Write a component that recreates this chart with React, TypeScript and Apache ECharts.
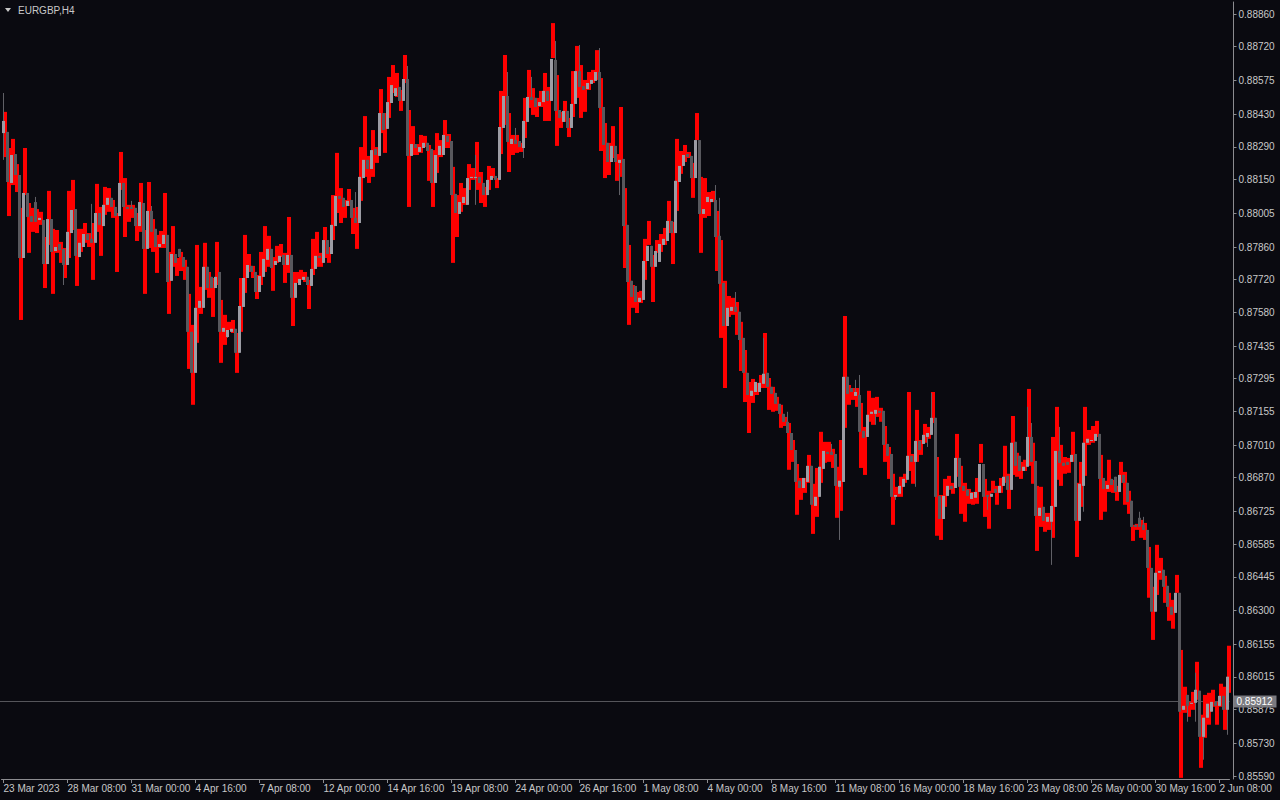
import React, { useEffect, useRef } from 'react';
import * as echarts from 'echarts';

const symbolTitle = 'EURGBP,H4';
const dateLabels = ['23 Mar 2023', '28 Mar 08:00', '31 Mar 00:00', '4 Apr 16:00', '7 Apr 08:00', '12 Apr 00:00', '14 Apr 16:00', '19 Apr 08:00', '24 Apr 00:00', '26 Apr 16:00', '1 May 08:00', '4 May 00:00', '8 May 16:00', '11 May 08:00', '16 May 00:00', '18 May 16:00', '23 May 08:00', '26 May 00:00', '30 May 16:00', '2 Jun 08:00'];
const dateLabelStep = 16;
const priceLabels = [0.88860, 0.88720, 0.88575, 0.88430, 0.88290, 0.88150, 0.88005, 0.87860, 0.87720, 0.87580, 0.87435, 0.87295, 0.87155, 0.87010, 0.86870, 0.86725, 0.86585, 0.86445, 0.86300, 0.86155, 0.86015, 0.85875, 0.85730, 0.85590];
const lastPrice = 0.85912;

const barOpen = [
  0.88349,0.88354,0.88135,0.88259,0.88169,0.87813,0.88092,0.87993,0.88053,0.87976,0.87976,0.87787,0.87980,0.87843,0.87873,0.87852,
  0.87783,0.87920,0.88023,0.87817,0.87860,0.87916,0.87895,0.87878,0.88006,0.87950,0.88041,0.88071,0.88032,0.87993,0.88135,0.88032,
  0.88032,0.88028,0.87950,0.88049,0.87852,0.88015,0.87938,0.87860,0.87873,0.87912,0.87715,0.87830,0.87852,0.87817,0.87775,0.87496,
  0.87320,0.87599,0.87599,0.87775,0.87732,0.87684,0.87753,0.87496,0.87474,0.87496,0.87509,0.87406,0.87603,0.87727,0.87779,0.87753,
  0.87667,0.87732,0.87805,0.87852,0.87783,0.87796,0.87826,0.87783,0.87826,0.87642,0.87697,0.87719,0.87732,0.87693,0.87766,0.87822,
  0.87792,0.87890,0.87830,0.87950,0.88079,0.88071,0.88036,0.88062,0.87985,0.87963,0.88156,0.88234,0.88195,0.88281,0.88251,0.88435,
  0.88367,0.88478,0.88508,0.88547,0.88487,0.88581,0.88251,0.88302,0.88268,0.88285,0.88307,0.88281,0.88135,0.88255,0.88255,0.88337,
  0.88315,0.88088,0.88002,0.88049,0.88041,0.88156,0.88156,0.88161,0.88135,0.88083,0.88148,0.88165,0.88148,0.88371,0.88508,0.88302,
  0.88319,0.88315,0.88285,0.88397,0.88504,0.88500,0.88465,0.88482,0.88530,0.88487,0.88663,0.88448,0.88397,0.88444,0.88371,0.88474,
  0.88615,0.88551,0.88538,0.88560,0.88573,0.88611,0.88461,0.88307,0.88225,0.88294,0.88221,0.88238,0.87955,0.87715,0.87693,0.87624,
  0.87633,0.87800,0.87865,0.87775,0.87796,0.87869,0.87886,0.87972,0.87920,0.88139,0.88208,0.88259,0.88251,0.88156,0.88319,0.88002,
  0.88053,0.88053,0.88062,0.87908,0.87706,0.87521,0.87586,0.87603,0.87582,0.87470,0.87320,0.87221,0.87238,0.87238,0.87273,0.87320,
  0.87260,0.87234,0.87187,0.87144,0.87110,0.87062,0.86989,0.86857,0.86826,0.86852,0.86921,0.86749,0.86788,0.86908,0.86981,0.86981,
  0.86972,0.86831,0.86852,0.87303,0.87255,0.87221,0.87225,0.87071,0.87045,0.87144,0.87144,0.87157,0.87157,0.87015,0.86972,0.86788,
  0.86801,0.86831,0.86861,0.86964,0.86938,0.87028,0.87015,0.87045,0.87054,0.87127,0.86792,0.86693,0.86792,0.86835,0.86826,0.86955,
  0.86835,0.86818,0.86779,0.86784,0.86809,0.86929,0.86796,0.86788,0.86822,0.86805,0.86835,0.86878,0.86818,0.87024,0.86964,0.86899,
  0.86917,0.87045,0.86942,0.86706,0.86745,0.86681,0.86681,0.86745,0.86985,0.86934,0.86938,0.86938,0.86972,0.86685,0.86835,0.87020,
  0.87028,0.87028,0.87058,0.86869,0.86822,0.86865,0.86874,0.86809,0.86882,0.86848,0.86771,0.86668,0.86698,0.86668,0.86646,0.86483,
  0.86295,0.86462,0.86475,0.86406,0.86316,0.86290,0.86376,0.85874,0.85938,0.85900,0.85904,0.85956,0.85758,0.85840,0.85866,0.85908,
  0.85891,0.85934,0.85874,
];
const barHigh = [
  0.88521,0.88354,0.88255,0.88259,0.88169,0.88092,0.88092,0.87993,0.88075,0.87985,0.87976,0.87980,0.87980,0.87860,0.87873,0.87852,
  0.87925,0.88019,0.88023,0.87878,0.87916,0.87916,0.88045,0.88006,0.88006,0.88041,0.88071,0.88071,0.88032,0.88135,0.88135,0.88032,
  0.88058,0.88028,0.88053,0.88049,0.88015,0.88036,0.87938,0.87873,0.87912,0.87912,0.87830,0.87830,0.87852,0.87817,0.87775,0.87496,
  0.87599,0.87629,0.87775,0.87775,0.87732,0.87732,0.87753,0.87513,0.87504,0.87509,0.87509,0.87607,0.87727,0.87783,0.87779,0.87753,
  0.87736,0.87809,0.87852,0.87852,0.87800,0.87822,0.87826,0.87826,0.87826,0.87706,0.87723,0.87732,0.87732,0.87766,0.87822,0.87822,
  0.87890,0.87890,0.87955,0.88079,0.88079,0.88071,0.88058,0.88062,0.88096,0.88161,0.88234,0.88234,0.88276,0.88281,0.88435,0.88435,
  0.88482,0.88555,0.88542,0.88547,0.88581,0.88637,0.88302,0.88302,0.88289,0.88307,0.88307,0.88281,0.88255,0.88294,0.88341,0.88337,
  0.88315,0.88088,0.88053,0.88075,0.88156,0.88161,0.88255,0.88161,0.88135,0.88148,0.88165,0.88165,0.88375,0.88508,0.88611,0.88324,
  0.88371,0.88315,0.88401,0.88504,0.88590,0.88500,0.88482,0.88530,0.88530,0.88667,0.88744,0.88448,0.88444,0.88444,0.88474,0.88615,
  0.88727,0.88551,0.88564,0.88577,0.88611,0.88714,0.88461,0.88307,0.88294,0.88294,0.88234,0.88238,0.87955,0.87715,0.87693,0.87642,
  0.87800,0.87865,0.87865,0.87843,0.87873,0.87895,0.87972,0.87972,0.88144,0.88208,0.88255,0.88259,0.88251,0.88319,0.88319,0.88023,
  0.88075,0.88066,0.88126,0.88071,0.87706,0.87599,0.87603,0.87667,0.87582,0.87470,0.87320,0.87243,0.87281,0.87277,0.87470,0.87320,
  0.87260,0.87234,0.87187,0.87144,0.87153,0.87062,0.86989,0.86857,0.86869,0.86921,0.86921,0.86788,0.86917,0.86985,0.86981,0.87015,
  0.86972,0.86857,0.87303,0.87303,0.87255,0.87290,0.87311,0.87071,0.87140,0.87153,0.87161,0.87157,0.87157,0.87015,0.86972,0.86796,
  0.86835,0.86865,0.86964,0.86964,0.87028,0.87028,0.87054,0.87062,0.87234,0.87127,0.86792,0.86792,0.86835,0.86835,0.86955,0.86955,
  0.86835,0.86818,0.86805,0.86809,0.86929,0.86929,0.86796,0.86801,0.86822,0.86835,0.86874,0.86878,0.87020,0.87024,0.86964,0.86917,
  0.87174,0.87105,0.86942,0.86741,0.86745,0.86702,0.86749,0.86985,0.87088,0.86934,0.86938,0.86968,0.86972,0.86844,0.87020,0.87037,
  0.87032,0.87058,0.87058,0.86869,0.86839,0.86865,0.86874,0.86882,0.86882,0.86848,0.86771,0.86668,0.86724,0.86702,0.86646,0.86483,
  0.86462,0.86470,0.86475,0.86406,0.86316,0.86376,0.86376,0.85891,0.85938,0.85904,0.86033,0.85956,0.85840,0.85900,0.85908,0.85908,
  0.85934,0.85934,0.86016,
];
const barLow = [
  0.88234,0.88139,0.88135,0.88169,0.87813,0.87813,0.87989,0.87968,0.87968,0.87976,0.87787,0.87787,0.87839,0.87843,0.87847,0.87697,
  0.87783,0.87920,0.87822,0.87817,0.87860,0.87890,0.87878,0.87878,0.87955,0.87950,0.88041,0.88032,0.87993,0.87993,0.88032,0.88023,
  0.88023,0.87950,0.87950,0.87852,0.87852,0.87925,0.87860,0.87860,0.87873,0.87710,0.87715,0.87792,0.87817,0.87775,0.87496,0.87320,
  0.87320,0.87599,0.87599,0.87684,0.87684,0.87684,0.87496,0.87496,0.87470,0.87496,0.87406,0.87406,0.87603,0.87727,0.87753,0.87667,
  0.87667,0.87732,0.87805,0.87770,0.87783,0.87796,0.87783,0.87783,0.87642,0.87642,0.87697,0.87719,0.87697,0.87693,0.87766,0.87813,
  0.87792,0.87830,0.87830,0.87950,0.88066,0.88032,0.88036,0.87985,0.87963,0.87963,0.88156,0.88195,0.88195,0.88255,0.88251,0.88362,
  0.88367,0.88478,0.88508,0.88487,0.88487,0.88251,0.88251,0.88285,0.88268,0.88285,0.88272,0.88135,0.88135,0.88255,0.88255,0.88311,
  0.88083,0.88006,0.88002,0.88049,0.88041,0.88156,0.88041,0.88135,0.88083,0.88083,0.88148,0.88148,0.88148,0.88371,0.88311,0.88302,
  0.88302,0.88289,0.88242,0.88397,0.88491,0.88461,0.88465,0.88482,0.88487,0.88487,0.88444,0.88414,0.88397,0.88371,0.88371,0.88474,
  0.88547,0.88534,0.88538,0.88560,0.88573,0.88457,0.88298,0.88225,0.88225,0.88225,0.88083,0.87950,0.87710,0.87646,0.87624,0.87624,
  0.87633,0.87800,0.87775,0.87775,0.87796,0.87869,0.87886,0.87920,0.87920,0.88139,0.88208,0.88246,0.88156,0.88156,0.88002,0.88002,
  0.88053,0.88053,0.87903,0.87702,0.87521,0.87521,0.87586,0.87582,0.87461,0.87320,0.87225,0.87221,0.87238,0.87238,0.87273,0.87260,
  0.87230,0.87187,0.87144,0.87110,0.87062,0.86989,0.86852,0.86826,0.86826,0.86852,0.86754,0.86749,0.86788,0.86908,0.86972,0.86968,
  0.86835,0.86603,0.86852,0.87230,0.87238,0.87221,0.87067,0.87041,0.87045,0.87144,0.87097,0.87148,0.87011,0.86964,0.86788,0.86775,
  0.86801,0.86831,0.86861,0.86938,0.86831,0.86989,0.87015,0.87002,0.87054,0.86788,0.86693,0.86693,0.86792,0.86822,0.86826,0.86831,
  0.86814,0.86792,0.86779,0.86784,0.86809,0.86788,0.86732,0.86788,0.86805,0.86805,0.86835,0.86818,0.86818,0.86921,0.86899,0.86899,
  0.86917,0.86938,0.86706,0.86706,0.86685,0.86681,0.86496,0.86745,0.86934,0.86921,0.86925,0.86938,0.86685,0.86685,0.86724,0.87020,
  0.87028,0.87028,0.86865,0.86822,0.86822,0.86839,0.86809,0.86809,0.86848,0.86766,0.86659,0.86659,0.86659,0.86646,0.86483,0.86295,
  0.86295,0.86462,0.86402,0.86316,0.86282,0.86290,0.85866,0.85874,0.85823,0.85900,0.85823,0.85758,0.85660,0.85840,0.85866,0.85891,
  0.85891,0.85874,0.85767,
];
const barClose = [
  0.88401,0.88139,0.88255,0.88169,0.87813,0.88092,0.87989,0.87968,0.87968,0.87985,0.87787,0.87980,0.87839,0.87860,0.87847,0.87783,
  0.87925,0.88019,0.87822,0.87878,0.87916,0.87890,0.87878,0.88006,0.87955,0.88041,0.88071,0.88032,0.87993,0.88135,0.88032,0.88023,
  0.88023,0.87950,0.88053,0.87852,0.88015,0.87925,0.87860,0.87873,0.87912,0.87710,0.87830,0.87792,0.87817,0.87775,0.87496,0.87320,
  0.87599,0.87629,0.87775,0.87684,0.87684,0.87732,0.87496,0.87513,0.87504,0.87509,0.87406,0.87607,0.87727,0.87783,0.87753,0.87667,
  0.87736,0.87809,0.87852,0.87770,0.87800,0.87822,0.87783,0.87826,0.87642,0.87706,0.87723,0.87732,0.87697,0.87766,0.87822,0.87813,
  0.87890,0.87830,0.87955,0.88079,0.88066,0.88032,0.88058,0.87985,0.87963,0.88161,0.88234,0.88195,0.88276,0.88255,0.88435,0.88362,
  0.88482,0.88555,0.88542,0.88487,0.88581,0.88251,0.88302,0.88285,0.88289,0.88307,0.88272,0.88135,0.88255,0.88294,0.88341,0.88311,
  0.88083,0.88006,0.88053,0.88075,0.88156,0.88161,0.88161,0.88135,0.88083,0.88148,0.88165,0.88148,0.88375,0.88508,0.88311,0.88324,
  0.88302,0.88289,0.88401,0.88504,0.88491,0.88461,0.88482,0.88530,0.88487,0.88667,0.88444,0.88414,0.88444,0.88371,0.88474,0.88615,
  0.88547,0.88534,0.88564,0.88577,0.88611,0.88457,0.88298,0.88225,0.88294,0.88225,0.88234,0.87950,0.87710,0.87646,0.87624,0.87642,
  0.87800,0.87865,0.87775,0.87843,0.87873,0.87895,0.87972,0.87920,0.88144,0.88208,0.88255,0.88246,0.88156,0.88319,0.88002,0.88023,
  0.88075,0.88066,0.87903,0.87702,0.87521,0.87599,0.87603,0.87582,0.87461,0.87320,0.87225,0.87243,0.87281,0.87277,0.87316,0.87260,
  0.87230,0.87187,0.87144,0.87110,0.87062,0.86989,0.86852,0.86826,0.86869,0.86921,0.86754,0.86788,0.86917,0.86985,0.86972,0.86968,
  0.86835,0.86857,0.87303,0.87230,0.87238,0.87238,0.87067,0.87041,0.87140,0.87153,0.87161,0.87148,0.87011,0.86964,0.86788,0.86796,
  0.86835,0.86865,0.86964,0.86938,0.87028,0.86989,0.87054,0.87062,0.87127,0.86788,0.86693,0.86792,0.86835,0.86822,0.86955,0.86831,
  0.86814,0.86792,0.86805,0.86809,0.86929,0.86788,0.86788,0.86801,0.86805,0.86835,0.86874,0.86818,0.87020,0.86921,0.86899,0.86917,
  0.87045,0.86938,0.86706,0.86741,0.86685,0.86702,0.86749,0.86985,0.86934,0.86921,0.86925,0.86968,0.86685,0.86844,0.87020,0.87037,
  0.87032,0.87058,0.86865,0.86822,0.86839,0.86839,0.86809,0.86882,0.86848,0.86766,0.86659,0.86659,0.86659,0.86646,0.86483,0.86295,
  0.86462,0.86470,0.86402,0.86316,0.86282,0.86376,0.85866,0.85891,0.85891,0.85904,0.85960,0.85758,0.85840,0.85900,0.85908,0.85891,
  0.85934,0.85874,0.86016,
];
const rangeHigh = [
  0.88440,0.88285,0.88324,0.88216,0.88028,0.88285,0.88049,0.88028,0.88023,0.88011,0.87903,0.88101,0.87938,0.87933,0.87882,0.87856,
  0.88101,0.88148,0.87938,0.87938,0.87963,0.87920,0.87963,0.88131,0.88032,0.88118,0.88113,0.88062,0.88006,0.88268,0.88156,0.88041,
  0.88041,0.88006,0.88135,0.87933,0.88139,0.87980,0.87912,0.87929,0.88092,0.87839,0.87950,0.87813,0.87839,0.87805,0.87659,0.87526,
  0.87869,0.87689,0.87878,0.87753,0.87727,0.87882,0.87633,0.87569,0.87539,0.87547,0.87491,0.87727,0.87912,0.87830,0.87779,0.87740,
  0.87839,0.87950,0.87908,0.87817,0.87865,0.87873,0.87835,0.87989,0.87753,0.87753,0.87762,0.87753,0.87719,0.87895,0.87925,0.87835,
  0.87946,0.87860,0.88083,0.88264,0.88113,0.88062,0.88109,0.88028,0.88032,0.88289,0.88422,0.88251,0.88362,0.88289,0.88538,0.88435,
  0.88590,0.88641,0.88607,0.88534,0.88684,0.88448,0.88379,0.88302,0.88341,0.88337,0.88298,0.88276,0.88349,0.88319,0.88405,0.88345,
  0.88204,0.88083,0.88135,0.88113,0.88216,0.88199,0.88311,0.88182,0.88118,0.88208,0.88199,0.88156,0.88530,0.88684,0.88435,0.88341,
  0.88341,0.88307,0.88500,0.88620,0.88542,0.88500,0.88530,0.88607,0.88547,0.88821,0.88598,0.88440,0.88487,0.88414,0.88615,0.88723,
  0.88641,0.88577,0.88611,0.88620,0.88705,0.88585,0.88392,0.88307,0.88379,0.88259,0.88461,0.88113,0.87869,0.87697,0.87667,0.87672,
  0.87895,0.87972,0.87826,0.87890,0.87916,0.87942,0.88058,0.87968,0.88324,0.88272,0.88298,0.88268,0.88221,0.88435,0.88161,0.88156,
  0.88096,0.88101,0.88015,0.87890,0.87715,0.87650,0.87642,0.87624,0.87539,0.87418,0.87281,0.87294,0.87277,0.87311,0.87491,0.87298,
  0.87260,0.87217,0.87183,0.87131,0.87105,0.87032,0.86929,0.86869,0.86869,0.86968,0.86844,0.86912,0.87067,0.87024,0.87024,0.86994,
  0.86917,0.87032,0.87564,0.87268,0.87255,0.87255,0.87191,0.87088,0.87243,0.87213,0.87217,0.87170,0.87092,0.87002,0.86887,0.86831,
  0.86874,0.86887,0.87238,0.86972,0.87161,0.87032,0.87101,0.87088,0.87238,0.86959,0.86796,0.86865,0.86878,0.86848,0.87058,0.86921,
  0.86848,0.86822,0.86809,0.86869,0.87015,0.86865,0.86814,0.86857,0.86835,0.86869,0.87007,0.86887,0.87135,0.86977,0.86938,0.86947,
  0.87251,0.87020,0.86835,0.86831,0.86719,0.86719,0.87045,0.87174,0.87011,0.86959,0.86955,0.87067,0.86848,0.86938,0.87174,0.87075,
  0.87092,0.87114,0.86968,0.86857,0.86947,0.86861,0.86835,0.86938,0.86895,0.86814,0.86668,0.86672,0.86689,0.86676,0.86573,0.86402,
  0.86582,0.86526,0.86449,0.86376,0.86346,0.86453,0.86131,0.85973,0.85908,0.85951,0.86080,0.85853,0.85938,0.85947,0.85960,0.85908,
  0.85986,0.85973,0.86149,
];
const rangeLow = [
  0.88246,0.87993,0.88126,0.88096,0.87547,0.88083,0.87835,0.87925,0.87920,0.87955,0.87684,0.87869,0.87659,0.87835,0.87792,0.87727,
  0.87813,0.87933,0.87693,0.87839,0.87878,0.87860,0.87719,0.87925,0.87822,0.87998,0.88011,0.87985,0.87753,0.88105,0.87903,0.87968,
  0.87985,0.87886,0.87925,0.87659,0.87856,0.87839,0.87749,0.87856,0.87856,0.87573,0.87775,0.87736,0.87757,0.87719,0.87337,0.87183,
  0.87449,0.87573,0.87676,0.87642,0.87560,0.87697,0.87363,0.87440,0.87504,0.87491,0.87320,0.87496,0.87663,0.87753,0.87727,0.87637,
  0.87697,0.87753,0.87775,0.87672,0.87792,0.87817,0.87706,0.87749,0.87521,0.87706,0.87719,0.87710,0.87594,0.87740,0.87775,0.87775,
  0.87813,0.87792,0.87890,0.88006,0.87963,0.87985,0.88036,0.87916,0.87852,0.88058,0.88161,0.88135,0.88161,0.88221,0.88349,0.88264,
  0.88414,0.88521,0.88504,0.88444,0.88564,0.88032,0.88255,0.88255,0.88264,0.88289,0.88144,0.88032,0.88178,0.88246,0.88285,0.88285,
  0.87792,0.87903,0.88011,0.88041,0.88105,0.88148,0.88105,0.88049,0.88032,0.88105,0.88156,0.88113,0.88259,0.88384,0.88182,0.88255,
  0.88264,0.88268,0.88328,0.88457,0.88427,0.88418,0.88461,0.88401,0.88401,0.88671,0.88294,0.88371,0.88397,0.88332,0.88418,0.88500,
  0.88414,0.88440,0.88534,0.88564,0.88577,0.88272,0.88156,0.88169,0.88242,0.88144,0.88161,0.87770,0.87526,0.87599,0.87577,0.87620,
  0.87719,0.87869,0.87624,0.87835,0.87839,0.87869,0.87920,0.87787,0.88015,0.88174,0.88225,0.88242,0.88071,0.88319,0.87835,0.87985,
  0.87993,0.88053,0.87757,0.87470,0.87255,0.87560,0.87569,0.87483,0.87328,0.87195,0.87062,0.87191,0.87225,0.87255,0.87255,0.87161,
  0.87153,0.87157,0.87084,0.87092,0.86904,0.86938,0.86711,0.86775,0.86805,0.86848,0.86629,0.86702,0.86848,0.86934,0.86938,0.86912,
  0.86698,0.86728,0.87084,0.87183,0.87204,0.87174,0.86912,0.86882,0.87110,0.87097,0.87131,0.87110,0.86938,0.86865,0.86668,0.86788,
  0.86788,0.86848,0.86899,0.86844,0.86938,0.86968,0.87020,0.87037,0.87105,0.86621,0.86603,0.86745,0.86818,0.86801,0.86874,0.86715,
  0.86681,0.86758,0.86754,0.86758,0.86934,0.86702,0.86651,0.86805,0.86754,0.86805,0.86848,0.86736,0.86882,0.86874,0.86865,0.86899,
  0.86921,0.86844,0.86556,0.86659,0.86638,0.86646,0.86612,0.86861,0.86835,0.86887,0.86891,0.86938,0.86530,0.86745,0.86878,0.87011,
  0.87020,0.87045,0.86689,0.86724,0.86809,0.86805,0.86771,0.86848,0.86754,0.86715,0.86599,0.86646,0.86612,0.86603,0.86355,0.86174,
  0.86367,0.86432,0.86333,0.86256,0.86222,0.86376,0.85582,0.85861,0.85844,0.85874,0.85917,0.85625,0.85754,0.85810,0.85887,0.85810,
  0.85887,0.85788,0.85947,
];

const BG = '#0a0a10';
const RED = '#ff0000';
const BULL = '#9c9ca4';
const BEAR = '#58585d';
const WICK = '#606066';
const AXIS = '#8c8c90';
const TEXT = '#c8c8c8';
const FONT = 'Liberation Sans';

export default function App() {
  const ref = useRef<HTMLDivElement>(null);

  useEffect(() => {
    if (!ref.current) return;
    const chart = echarts.init(ref.current, undefined, { renderer: 'svg' });
    const categories = barOpen.map((_, i) => String(i));
    const candleData = barOpen.map((o, i) => [i, o, barClose[i], barLow[i], barHigh[i]]);
    const rangeData = rangeHigh.map((h, i) => [i, rangeLow[i], h]);

    chart.setOption({
      animation: false,
      backgroundColor: BG,
      grid: { left: 1.5, top: 2, width: 1228, height: 777, containLabel: false },
      xAxis: {
        type: 'category',
        data: categories,
        boundaryGap: true,
        axisLine: { show: true, lineStyle: { color: AXIS, width: 1 } },
        axisTick: {
          show: true,
          alignWithLabel: true,
          length: 4,
          interval: (idx: number) => idx % dateLabelStep === 0,
          lineStyle: { color: AXIS },
        },
        axisLabel: {
          interval: (idx: number) => idx % dateLabelStep === 0,
          formatter: (_v: string, idx: number) => (idx % dateLabelStep === 0 ? dateLabels[idx / dateLabelStep] ?? '' : ''),
          align: 'left',
          padding: [0, 0, 0, 0],
          margin: 4,
          color: TEXT,
          fontSize: 10,
          fontFamily: FONT,
        },
        splitLine: { show: false },
      },
      yAxis: {
        type: 'value',
        position: 'right',
        offset: 4,
        min: 0.8557713,
        max: 0.889115,
        axisLine: { show: true, lineStyle: { color: AXIS, width: 1 } },
        axisTick: { show: true, length: 3, customValues: priceLabels, lineStyle: { color: AXIS } },
        axisLabel: {
          customValues: priceLabels,
          formatter: (v: number) => v.toFixed(5),
          margin: 5,
          color: TEXT,
          fontSize: 10,
          fontFamily: FONT,
        },
        splitLine: { show: false },
      },
      graphic: [
        { type: 'polygon', shape: { points: [[5, 8], [11, 8], [8, 12]] }, style: { fill: TEXT } },
        { type: 'text', left: 18, top: 5, style: { text: symbolTitle, fill: TEXT, font: `10px "${FONT}"` } },
      ],
      series: [
        {
          type: 'custom',
          z: 1,
          silent: true,
          data: [[0, lastPrice]],
          encode: { x: 0, y: 1 },
          renderItem: (params: any, api: any) => {
            const cs = params.coordSys;
            const p = api.coord([0, api.value(1)]);
            const y = Math.round(p[1]) + 0.5;
            const boxX = cs.x + cs.width + 4;
            return {
              type: 'group',
              children: [
                { type: 'line', shape: { x1: 0, y1: y, x2: cs.x + cs.width, y2: y }, style: { stroke: '#55555a', lineWidth: 1 } },
                { type: 'rect', shape: { x: boxX, y: y - 6, width: 43, height: 12 }, style: { fill: '#7a7a80' } },
                {
                  type: 'text',
                  x: boxX + 3,
                  y: y,
                  style: {
                    text: lastPrice.toFixed(5),
                    fill: '#ffffff',
                    font: `10px "${FONT}"`,
                    textVerticalAlign: 'middle',
                    verticalAlign: 'middle',
                  },
                },
              ],
            };
          },
        },
        {
          type: 'custom',
          z: 2,
          data: rangeData,
          encode: { x: 0, y: [1, 2] },
          renderItem: (_p: any, api: any) => {
            const i = api.value(0);
            const top = api.coord([i, api.value(2)]);
            const bot = api.coord([i, api.value(1)]);
            return {
              type: 'rect',
              shape: { x: top[0] - 0.5, y: top[1], width: 4, height: Math.max(1, bot[1] - top[1]) },
              style: { fill: RED },
            };
          },
        },
        {
          type: 'custom',
          z: 3,
          data: candleData,
          encode: { x: 0, y: [1, 2, 3, 4] },
          renderItem: (_p: any, api: any) => {
            const i = api.value(0);
            const o = api.value(1);
            const c = api.value(2);
            const po = api.coord([i, o]);
            const pc = api.coord([i, c]);
            const pl = api.coord([i, api.value(3)]);
            const ph = api.coord([i, api.value(4)]);
            const cx = po[0];
            const top = Math.min(po[1], pc[1]);
            const bot = Math.max(po[1], pc[1]);
            return {
              type: 'group',
              children: [
                { type: 'line', shape: { x1: cx, y1: ph[1], x2: cx, y2: pl[1] }, style: { stroke: WICK, lineWidth: 1 } },
                {
                  type: 'rect',
                  shape: { x: cx - 1.5, y: top, width: 3, height: Math.max(1, bot - top) },
                  style: { fill: c >= o ? BULL : BEAR },
                },
              ],
            };
          },
        },
      ],
    });

    return () => chart.dispose();
  }, []);

  return <div ref={ref} style={{ position: 'fixed', left: 0, top: 0, width: 1280, height: 800 }} />;
}
